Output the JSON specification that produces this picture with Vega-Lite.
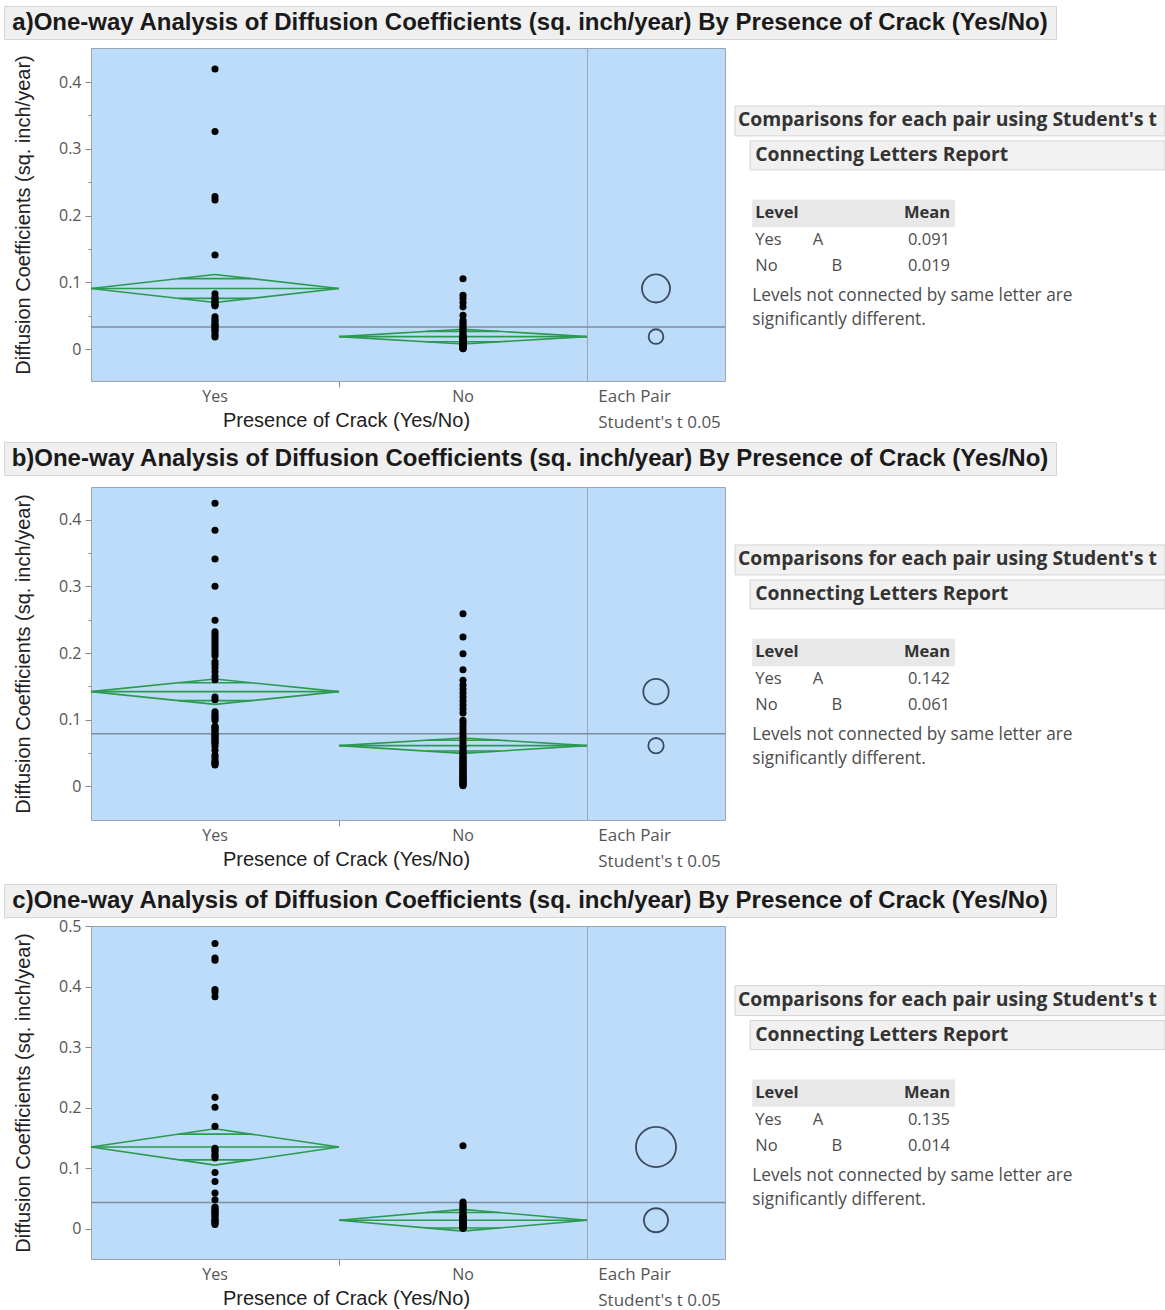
{
  "$schema": "https://vega.github.io/schema/vega-lite/v6.json",
  "padding": {"left": 3, "top": 5, "right": 0, "bottom": 0},
  "background": "#ffffff",
  "datasets": {
    "titles": [
      {"panel": "a", "title": "a)One-way Analysis of Diffusion Coefficients (sq. inch/year) By Presence of Crack (Yes/No)"},
      {"panel": "b", "title": "b)One-way Analysis of Diffusion Coefficients (sq. inch/year) By Presence of Crack (Yes/No)"},
      {"panel": "c", "title": "c)One-way Analysis of Diffusion Coefficients (sq. inch/year) By Presence of Crack (Yes/No)"}
    ],
    "report": [
      {"heading": "Comparisons for each pair using Student's t", "subheading": "Connecting Letters Report", "level_col": "Level", "mean_col": "Mean", "note1": "Levels not connected by same letter are", "note2": "significantly different."}
    ],
    "groups": [
      {"panel": "a", "crack": "Yes", "letter": "A", "mean": 0.091, "ci_lo": 0.070, "ci_hi": 0.112, "ov_lo": 0.0762, "ov_hi": 0.1058, "ci_half": 0.021},
      {"panel": "a", "crack": "No", "letter": "B", "mean": 0.019, "ci_lo": 0.008, "ci_hi": 0.030, "ov_lo": 0.0112, "ov_hi": 0.0268, "ci_half": 0.011},
      {"panel": "b", "crack": "Yes", "letter": "A", "mean": 0.142, "ci_lo": 0.123, "ci_hi": 0.161, "ov_lo": 0.1286, "ov_hi": 0.1554, "ci_half": 0.019},
      {"panel": "b", "crack": "No", "letter": "B", "mean": 0.061, "ci_lo": 0.0495, "ci_hi": 0.0725, "ov_lo": 0.0529, "ov_hi": 0.0691, "ci_half": 0.0115},
      {"panel": "c", "crack": "Yes", "letter": "A", "mean": 0.135, "ci_lo": 0.105, "ci_hi": 0.165, "ov_lo": 0.1138, "ov_hi": 0.1562, "ci_half": 0.030},
      {"panel": "c", "crack": "No", "letter": "B", "mean": 0.014, "ci_lo": -0.004, "ci_hi": 0.032, "ov_lo": 0.0013, "ov_hi": 0.0267, "ci_half": 0.018}
    ],
    "grand": [
      {"panel": "a", "grand_mean": 0.0335},
      {"panel": "b", "grand_mean": 0.079},
      {"panel": "c", "grand_mean": 0.0435}
    ],
    "points": [
      {"panel": "a", "crack": "Yes", "coef": 0.4195}, {"panel": "a", "crack": "Yes", "coef": 0.326}, {"panel": "a", "crack": "Yes", "coef": 0.2285}, {"panel": "a", "crack": "Yes", "coef": 0.2235}, {"panel": "a", "crack": "Yes", "coef": 0.141},
      {"panel": "a", "crack": "Yes", "coef": 0.083}, {"panel": "a", "crack": "Yes", "coef": 0.078}, {"panel": "a", "crack": "Yes", "coef": 0.075}, {"panel": "a", "crack": "Yes", "coef": 0.072}, {"panel": "a", "crack": "Yes", "coef": 0.070},
      {"panel": "a", "crack": "Yes", "coef": 0.068}, {"panel": "a", "crack": "Yes", "coef": 0.066}, {"panel": "a", "crack": "Yes", "coef": 0.065}, {"panel": "a", "crack": "Yes", "coef": 0.0485}, {"panel": "a", "crack": "Yes", "coef": 0.045},
      {"panel": "a", "crack": "Yes", "coef": 0.042}, {"panel": "a", "crack": "Yes", "coef": 0.038}, {"panel": "a", "crack": "Yes", "coef": 0.036}, {"panel": "a", "crack": "Yes", "coef": 0.035}, {"panel": "a", "crack": "Yes", "coef": 0.032},
      {"panel": "a", "crack": "Yes", "coef": 0.030}, {"panel": "a", "crack": "Yes", "coef": 0.028}, {"panel": "a", "crack": "Yes", "coef": 0.025}, {"panel": "a", "crack": "Yes", "coef": 0.021}, {"panel": "a", "crack": "Yes", "coef": 0.0185},
      {"panel": "a", "crack": "No", "coef": 0.1055}, {"panel": "a", "crack": "No", "coef": 0.081}, {"panel": "a", "crack": "No", "coef": 0.076}, {"panel": "a", "crack": "No", "coef": 0.070}, {"panel": "a", "crack": "No", "coef": 0.0635},
      {"panel": "a", "crack": "No", "coef": 0.051}, {"panel": "a", "crack": "No", "coef": 0.0435}, {"panel": "a", "crack": "No", "coef": 0.040}, {"panel": "a", "crack": "No", "coef": 0.037}, {"panel": "a", "crack": "No", "coef": 0.034},
      {"panel": "a", "crack": "No", "coef": 0.031}, {"panel": "a", "crack": "No", "coef": 0.028}, {"panel": "a", "crack": "No", "coef": 0.025}, {"panel": "a", "crack": "No", "coef": 0.022}, {"panel": "a", "crack": "No", "coef": 0.020},
      {"panel": "a", "crack": "No", "coef": 0.019}, {"panel": "a", "crack": "No", "coef": 0.018}, {"panel": "a", "crack": "No", "coef": 0.017}, {"panel": "a", "crack": "No", "coef": 0.016}, {"panel": "a", "crack": "No", "coef": 0.015},
      {"panel": "a", "crack": "No", "coef": 0.014}, {"panel": "a", "crack": "No", "coef": 0.013}, {"panel": "a", "crack": "No", "coef": 0.012}, {"panel": "a", "crack": "No", "coef": 0.011}, {"panel": "a", "crack": "No", "coef": 0.010},
      {"panel": "a", "crack": "No", "coef": 0.009}, {"panel": "a", "crack": "No", "coef": 0.008}, {"panel": "a", "crack": "No", "coef": 0.008}, {"panel": "a", "crack": "No", "coef": 0.007}, {"panel": "a", "crack": "No", "coef": 0.007},
      {"panel": "a", "crack": "No", "coef": 0.006}, {"panel": "a", "crack": "No", "coef": 0.006}, {"panel": "a", "crack": "No", "coef": 0.005}, {"panel": "a", "crack": "No", "coef": 0.005}, {"panel": "a", "crack": "No", "coef": 0.005},
      {"panel": "a", "crack": "No", "coef": 0.004}, {"panel": "a", "crack": "No", "coef": 0.004}, {"panel": "a", "crack": "No", "coef": 0.004}, {"panel": "a", "crack": "No", "coef": 0.003}, {"panel": "a", "crack": "No", "coef": 0.003},
      {"panel": "a", "crack": "No", "coef": 0.003}, {"panel": "a", "crack": "No", "coef": 0.002}, {"panel": "a", "crack": "No", "coef": 0.002}, {"panel": "a", "crack": "No", "coef": 0.002}, {"panel": "a", "crack": "No", "coef": 0.001},
      {"panel": "a", "crack": "No", "coef": 0.001}, {"panel": "a", "crack": "No", "coef": 0.001}, {"panel": "a", "crack": "No", "coef": 0.010}, {"panel": "a", "crack": "No", "coef": 0.009}, {"panel": "a", "crack": "No", "coef": 0.006},
      {"panel": "a", "crack": "No", "coef": 0.003},
      {"panel": "b", "crack": "Yes", "coef": 0.4245}, {"panel": "b", "crack": "Yes", "coef": 0.384}, {"panel": "b", "crack": "Yes", "coef": 0.341}, {"panel": "b", "crack": "Yes", "coef": 0.300}, {"panel": "b", "crack": "Yes", "coef": 0.249},
      {"panel": "b", "crack": "Yes", "coef": 0.232}, {"panel": "b", "crack": "Yes", "coef": 0.228}, {"panel": "b", "crack": "Yes", "coef": 0.224}, {"panel": "b", "crack": "Yes", "coef": 0.220}, {"panel": "b", "crack": "Yes", "coef": 0.216},
      {"panel": "b", "crack": "Yes", "coef": 0.212}, {"panel": "b", "crack": "Yes", "coef": 0.208}, {"panel": "b", "crack": "Yes", "coef": 0.204}, {"panel": "b", "crack": "Yes", "coef": 0.200}, {"panel": "b", "crack": "Yes", "coef": 0.196},
      {"panel": "b", "crack": "Yes", "coef": 0.187}, {"panel": "b", "crack": "Yes", "coef": 0.183}, {"panel": "b", "crack": "Yes", "coef": 0.178}, {"panel": "b", "crack": "Yes", "coef": 0.172}, {"panel": "b", "crack": "Yes", "coef": 0.165},
      {"panel": "b", "crack": "Yes", "coef": 0.160}, {"panel": "b", "crack": "Yes", "coef": 0.134}, {"panel": "b", "crack": "Yes", "coef": 0.130}, {"panel": "b", "crack": "Yes", "coef": 0.112}, {"panel": "b", "crack": "Yes", "coef": 0.108},
      {"panel": "b", "crack": "Yes", "coef": 0.105}, {"panel": "b", "crack": "Yes", "coef": 0.102}, {"panel": "b", "crack": "Yes", "coef": 0.099}, {"panel": "b", "crack": "Yes", "coef": 0.090}, {"panel": "b", "crack": "Yes", "coef": 0.089},
      {"panel": "b", "crack": "Yes", "coef": 0.087}, {"panel": "b", "crack": "Yes", "coef": 0.085}, {"panel": "b", "crack": "Yes", "coef": 0.083}, {"panel": "b", "crack": "Yes", "coef": 0.080}, {"panel": "b", "crack": "Yes", "coef": 0.078},
      {"panel": "b", "crack": "Yes", "coef": 0.076}, {"panel": "b", "crack": "Yes", "coef": 0.074}, {"panel": "b", "crack": "Yes", "coef": 0.072}, {"panel": "b", "crack": "Yes", "coef": 0.070}, {"panel": "b", "crack": "Yes", "coef": 0.068},
      {"panel": "b", "crack": "Yes", "coef": 0.066}, {"panel": "b", "crack": "Yes", "coef": 0.064}, {"panel": "b", "crack": "Yes", "coef": 0.060}, {"panel": "b", "crack": "Yes", "coef": 0.054}, {"panel": "b", "crack": "Yes", "coef": 0.047},
      {"panel": "b", "crack": "Yes", "coef": 0.044}, {"panel": "b", "crack": "Yes", "coef": 0.040}, {"panel": "b", "crack": "Yes", "coef": 0.037}, {"panel": "b", "crack": "Yes", "coef": 0.035}, {"panel": "b", "crack": "Yes", "coef": 0.034},
      {"panel": "b", "crack": "Yes", "coef": 0.032},
      {"panel": "b", "crack": "No", "coef": 0.259}, {"panel": "b", "crack": "No", "coef": 0.224}, {"panel": "b", "crack": "No", "coef": 0.199}, {"panel": "b", "crack": "No", "coef": 0.175}, {"panel": "b", "crack": "No", "coef": 0.159},
      {"panel": "b", "crack": "No", "coef": 0.152}, {"panel": "b", "crack": "No", "coef": 0.146}, {"panel": "b", "crack": "No", "coef": 0.140}, {"panel": "b", "crack": "No", "coef": 0.134}, {"panel": "b", "crack": "No", "coef": 0.128},
      {"panel": "b", "crack": "No", "coef": 0.122}, {"panel": "b", "crack": "No", "coef": 0.116}, {"panel": "b", "crack": "No", "coef": 0.110}, {"panel": "b", "crack": "No", "coef": 0.099}, {"panel": "b", "crack": "No", "coef": 0.095},
      {"panel": "b", "crack": "No", "coef": 0.090}, {"panel": "b", "crack": "No", "coef": 0.085}, {"panel": "b", "crack": "No", "coef": 0.080}, {"panel": "b", "crack": "No", "coef": 0.075}, {"panel": "b", "crack": "No", "coef": 0.070},
      {"panel": "b", "crack": "No", "coef": 0.065}, {"panel": "b", "crack": "No", "coef": 0.060}, {"panel": "b", "crack": "No", "coef": 0.058}, {"panel": "b", "crack": "No", "coef": 0.055}, {"panel": "b", "crack": "No", "coef": 0.052},
      {"panel": "b", "crack": "No", "coef": 0.050}, {"panel": "b", "crack": "No", "coef": 0.048}, {"panel": "b", "crack": "No", "coef": 0.045}, {"panel": "b", "crack": "No", "coef": 0.043}, {"panel": "b", "crack": "No", "coef": 0.042},
      {"panel": "b", "crack": "No", "coef": 0.040}, {"panel": "b", "crack": "No", "coef": 0.038}, {"panel": "b", "crack": "No", "coef": 0.036}, {"panel": "b", "crack": "No", "coef": 0.035}, {"panel": "b", "crack": "No", "coef": 0.033},
      {"panel": "b", "crack": "No", "coef": 0.031}, {"panel": "b", "crack": "No", "coef": 0.030}, {"panel": "b", "crack": "No", "coef": 0.028}, {"panel": "b", "crack": "No", "coef": 0.027}, {"panel": "b", "crack": "No", "coef": 0.025},
      {"panel": "b", "crack": "No", "coef": 0.024}, {"panel": "b", "crack": "No", "coef": 0.022}, {"panel": "b", "crack": "No", "coef": 0.020}, {"panel": "b", "crack": "No", "coef": 0.019}, {"panel": "b", "crack": "No", "coef": 0.018},
      {"panel": "b", "crack": "No", "coef": 0.016}, {"panel": "b", "crack": "No", "coef": 0.015}, {"panel": "b", "crack": "No", "coef": 0.013}, {"panel": "b", "crack": "No", "coef": 0.012}, {"panel": "b", "crack": "No", "coef": 0.010},
      {"panel": "b", "crack": "No", "coef": 0.009}, {"panel": "b", "crack": "No", "coef": 0.008}, {"panel": "b", "crack": "No", "coef": 0.006}, {"panel": "b", "crack": "No", "coef": 0.005}, {"panel": "b", "crack": "No", "coef": 0.004},
      {"panel": "b", "crack": "No", "coef": 0.003}, {"panel": "b", "crack": "No", "coef": 0.002}, {"panel": "b", "crack": "No", "coef": 0.001},
      {"panel": "c", "crack": "Yes", "coef": 0.471}, {"panel": "c", "crack": "Yes", "coef": 0.447}, {"panel": "c", "crack": "Yes", "coef": 0.4435}, {"panel": "c", "crack": "Yes", "coef": 0.395}, {"panel": "c", "crack": "Yes", "coef": 0.391},
      {"panel": "c", "crack": "Yes", "coef": 0.383}, {"panel": "c", "crack": "Yes", "coef": 0.217}, {"panel": "c", "crack": "Yes", "coef": 0.2005}, {"panel": "c", "crack": "Yes", "coef": 0.169}, {"panel": "c", "crack": "Yes", "coef": 0.133},
      {"panel": "c", "crack": "Yes", "coef": 0.130}, {"panel": "c", "crack": "Yes", "coef": 0.128}, {"panel": "c", "crack": "Yes", "coef": 0.123}, {"panel": "c", "crack": "Yes", "coef": 0.120}, {"panel": "c", "crack": "Yes", "coef": 0.117},
      {"panel": "c", "crack": "Yes", "coef": 0.093}, {"panel": "c", "crack": "Yes", "coef": 0.078}, {"panel": "c", "crack": "Yes", "coef": 0.059}, {"panel": "c", "crack": "Yes", "coef": 0.048}, {"panel": "c", "crack": "Yes", "coef": 0.036},
      {"panel": "c", "crack": "Yes", "coef": 0.034}, {"panel": "c", "crack": "Yes", "coef": 0.031}, {"panel": "c", "crack": "Yes", "coef": 0.029}, {"panel": "c", "crack": "Yes", "coef": 0.027}, {"panel": "c", "crack": "Yes", "coef": 0.025},
      {"panel": "c", "crack": "Yes", "coef": 0.022}, {"panel": "c", "crack": "Yes", "coef": 0.020}, {"panel": "c", "crack": "Yes", "coef": 0.016}, {"panel": "c", "crack": "Yes", "coef": 0.014}, {"panel": "c", "crack": "Yes", "coef": 0.013},
      {"panel": "c", "crack": "Yes", "coef": 0.011}, {"panel": "c", "crack": "Yes", "coef": 0.009}, {"panel": "c", "crack": "Yes", "coef": 0.007},
      {"panel": "c", "crack": "No", "coef": 0.137}, {"panel": "c", "crack": "No", "coef": 0.044}, {"panel": "c", "crack": "No", "coef": 0.041}, {"panel": "c", "crack": "No", "coef": 0.038}, {"panel": "c", "crack": "No", "coef": 0.035},
      {"panel": "c", "crack": "No", "coef": 0.032}, {"panel": "c", "crack": "No", "coef": 0.029}, {"panel": "c", "crack": "No", "coef": 0.026}, {"panel": "c", "crack": "No", "coef": 0.023}, {"panel": "c", "crack": "No", "coef": 0.021},
      {"panel": "c", "crack": "No", "coef": 0.020}, {"panel": "c", "crack": "No", "coef": 0.019}, {"panel": "c", "crack": "No", "coef": 0.018}, {"panel": "c", "crack": "No", "coef": 0.017}, {"panel": "c", "crack": "No", "coef": 0.016},
      {"panel": "c", "crack": "No", "coef": 0.015}, {"panel": "c", "crack": "No", "coef": 0.014}, {"panel": "c", "crack": "No", "coef": 0.013}, {"panel": "c", "crack": "No", "coef": 0.012}, {"panel": "c", "crack": "No", "coef": 0.011},
      {"panel": "c", "crack": "No", "coef": 0.010}, {"panel": "c", "crack": "No", "coef": 0.009}, {"panel": "c", "crack": "No", "coef": 0.008}, {"panel": "c", "crack": "No", "coef": 0.007}, {"panel": "c", "crack": "No", "coef": 0.006},
      {"panel": "c", "crack": "No", "coef": 0.006}, {"panel": "c", "crack": "No", "coef": 0.005}, {"panel": "c", "crack": "No", "coef": 0.005}, {"panel": "c", "crack": "No", "coef": 0.004}, {"panel": "c", "crack": "No", "coef": 0.004},
      {"panel": "c", "crack": "No", "coef": 0.003}, {"panel": "c", "crack": "No", "coef": 0.003}, {"panel": "c", "crack": "No", "coef": 0.003}, {"panel": "c", "crack": "No", "coef": 0.002}, {"panel": "c", "crack": "No", "coef": 0.002},
      {"panel": "c", "crack": "No", "coef": 0.002}, {"panel": "c", "crack": "No", "coef": 0.001}, {"panel": "c", "crack": "No", "coef": 0.001}, {"panel": "c", "crack": "No", "coef": 0.001}, {"panel": "c", "crack": "No", "coef": 0.008},
      {"panel": "c", "crack": "No", "coef": 0.005}, {"panel": "c", "crack": "No", "coef": 0.004}, {"panel": "c", "crack": "No", "coef": 0.003}, {"panel": "c", "crack": "No", "coef": 0.002}, {"panel": "c", "crack": "No", "coef": 0.001}
    ]
  },
  "config": {
    "view": {"stroke": null},
    "font": "Open Sans"
  },
  "align": "none",
  "spacing": 9,
  "vconcat": [
    {
      "align": "none",
      "spacing": 7,
      "vconcat": [
        {
          "width": 1052, "height": 33,
          "view": {"fill": "#f0f0f0", "stroke": "#d5d5d5"},
          "data": {"name": "titles"},
          "transform": [{"filter": "datum.panel == 'a'"}],
          "mark": {"type": "text", "font": "Liberation Sans", "fontSize": 24, "fontWeight": "bold", "color": "#1a1a1a", "align": "center", "baseline": "middle"},
          "encoding": {"text": {"field": "title"}}
        },
        {
          "spacing": 0,
          "bounds": "flush",
          "hconcat": [
            {"width": 87, "height": 10, "data": {"name": "report"}, "mark": {"type": "point", "opacity": 0}},
            {
              "width": 496, "height": 333,
              "view": {"fill": "#bcdcfa", "stroke": "#9aa5b1"},
              "layer": [
                {
                  "data": {"name": "grand"},
                  "transform": [{"filter": "datum.panel == 'a'"}],
                  "mark": {"type": "rule", "color": "#7d8c9f", "strokeWidth": 1.5},
                  "encoding": {"y": {"field": "grand_mean", "type": "quantitative", "scale": {"domain": [-0.0475, 0.451]}, "title": "Diffusion Coefficients (sq. inch/year)"}}
                },
                {
                  "data": {"name": "groups"},
                  "transform": [{"filter": "datum.panel == 'a'"}],
                  "layer": [
                    {"mark": {"type": "rule", "color": "#2b9a4f", "strokeWidth": 1.6}, "encoding": {"x": {"field": "crack", "type": "nominal", "bandPosition": 0, "scale": {"type": "band", "domain": ["Yes", "No"], "paddingInner": 0, "paddingOuter": 0}, "title": "Presence of Crack (Yes/No)"}, "x2": {"field": "crack", "bandPosition": 0.5}, "y": {"field": "mean", "type": "quantitative", "scale": {"domain": [-0.0475, 0.451]}, "title": "Diffusion Coefficients (sq. inch/year)"}, "y2": {"field": "ci_hi"}}},
                    {"mark": {"type": "rule", "color": "#2b9a4f", "strokeWidth": 1.6}, "encoding": {"x": {"field": "crack", "type": "nominal", "bandPosition": 0.5, "scale": {"type": "band", "domain": ["Yes", "No"], "paddingInner": 0, "paddingOuter": 0}, "title": "Presence of Crack (Yes/No)"}, "x2": {"field": "crack", "bandPosition": 1}, "y": {"field": "ci_hi", "type": "quantitative", "scale": {"domain": [-0.0475, 0.451]}, "title": "Diffusion Coefficients (sq. inch/year)"}, "y2": {"field": "mean"}}},
                    {"mark": {"type": "rule", "color": "#2b9a4f", "strokeWidth": 1.6}, "encoding": {"x": {"field": "crack", "type": "nominal", "bandPosition": 1, "scale": {"type": "band", "domain": ["Yes", "No"], "paddingInner": 0, "paddingOuter": 0}, "title": "Presence of Crack (Yes/No)"}, "x2": {"field": "crack", "bandPosition": 0.5}, "y": {"field": "mean", "type": "quantitative", "scale": {"domain": [-0.0475, 0.451]}, "title": "Diffusion Coefficients (sq. inch/year)"}, "y2": {"field": "ci_lo"}}},
                    {"mark": {"type": "rule", "color": "#2b9a4f", "strokeWidth": 1.6}, "encoding": {"x": {"field": "crack", "type": "nominal", "bandPosition": 0.5, "scale": {"type": "band", "domain": ["Yes", "No"], "paddingInner": 0, "paddingOuter": 0}, "title": "Presence of Crack (Yes/No)"}, "x2": {"field": "crack", "bandPosition": 0}, "y": {"field": "ci_lo", "type": "quantitative", "scale": {"domain": [-0.0475, 0.451]}, "title": "Diffusion Coefficients (sq. inch/year)"}, "y2": {"field": "mean"}}},
                    {"mark": {"type": "rule", "color": "#2b9a4f", "strokeWidth": 1.6}, "encoding": {"x": {"field": "crack", "type": "nominal", "bandPosition": 0, "scale": {"type": "band", "domain": ["Yes", "No"], "paddingInner": 0, "paddingOuter": 0}, "title": "Presence of Crack (Yes/No)"}, "x2": {"field": "crack", "bandPosition": 1}, "y": {"field": "mean", "type": "quantitative", "scale": {"domain": [-0.0475, 0.451]}, "title": "Diffusion Coefficients (sq. inch/year)"}}},
                    {"mark": {"type": "rule", "color": "#2b9a4f", "strokeWidth": 1.6}, "encoding": {"x": {"field": "crack", "type": "nominal", "bandPosition": 0.3535, "scale": {"type": "band", "domain": ["Yes", "No"], "paddingInner": 0, "paddingOuter": 0}, "title": "Presence of Crack (Yes/No)"}, "x2": {"field": "crack", "bandPosition": 0.6465}, "y": {"field": "ov_hi", "type": "quantitative", "scale": {"domain": [-0.0475, 0.451]}, "title": "Diffusion Coefficients (sq. inch/year)"}}},
                    {"mark": {"type": "rule", "color": "#2b9a4f", "strokeWidth": 1.6}, "encoding": {"x": {"field": "crack", "type": "nominal", "bandPosition": 0.3535, "scale": {"type": "band", "domain": ["Yes", "No"], "paddingInner": 0, "paddingOuter": 0}, "title": "Presence of Crack (Yes/No)"}, "x2": {"field": "crack", "bandPosition": 0.6465}, "y": {"field": "ov_lo", "type": "quantitative", "scale": {"domain": [-0.0475, 0.451]}, "title": "Diffusion Coefficients (sq. inch/year)"}}}
                  ]
                },
                {
                  "data": {"name": "points"},
                  "transform": [{"filter": "datum.panel == 'a'"}],
                  "mark": {"type": "circle", "size": 50, "color": "#000000", "opacity": 1},
                  "encoding": {
                    "x": {"field": "crack", "type": "nominal", "scale": {"type": "band", "domain": ["Yes", "No"], "paddingInner": 0, "paddingOuter": 0}, "title": "Presence of Crack (Yes/No)",
                      "axis": {"bandPosition": 0, "labelAlign": "center", "tickOpacity": {"condition": {"test": "datum.value == 'Yes'", "value": 0}, "value": 1}, "tickSize": 6, "tickColor": "#8a8a8a", "domain": false, "grid": false, "labelAngle": 0, "labelPadding": 9, "labelFont": "Open Sans", "labelFontSize": 16, "labelColor": "#555555", "titleFont": "Liberation Sans", "titleFontSize": 20, "titleFontWeight": "normal", "titleColor": "#1e1e1e", "titlePadding": 6, "titleX": 255}},
                    "y": {"field": "coef", "type": "quantitative", "scale": {"domain": [-0.0475, 0.451]}, "title": "Diffusion Coefficients (sq. inch/year)",
                      "axis": {"values": [0, 0.05, 0.1, 0.15, 0.2, 0.25, 0.3, 0.35, 0.4], "labelExpr": "abs(datum.value * 10 - round(datum.value * 10)) < 0.001 ? format(datum.value, '.1~f') : ''", "tickSize": {"condition": {"test": "abs(datum.value * 10 - round(datum.value * 10)) < 0.001", "value": 6}, "value": 3}, "tickColor": "#8a8a8a", "domain": false, "grid": false, "labelFont": "Open Sans", "labelFontSize": 16, "labelColor": "#555555", "labelPadding": 4, "titleFont": "Liberation Sans", "titleFontSize": 20, "titleFontWeight": "normal", "titleColor": "#222222", "titlePadding": 25}}
                  }
                }
              ]
            },
            {
              "width": 138, "height": 333,
              "view": {"fill": "#bcdcfa", "stroke": "#9aa5b1"},
              "title": {"text": ["Each Pair", "Student's t 0.05"], "orient": "bottom", "anchor": "start", "dx": 12, "offset": 8, "font": "Open Sans", "fontSize": 17, "fontWeight": "normal", "color": "#555555", "lineHeight": 26},
              "layer": [
                {
                  "data": {"name": "grand"},
                  "transform": [{"filter": "datum.panel == 'a'"}],
                  "mark": {"type": "rule", "color": "#7d8c9f", "strokeWidth": 1.5},
                  "encoding": {"y": {"field": "grand_mean", "type": "quantitative", "scale": {"domain": [-0.0475, 0.451]}, "axis": null}}
                },
                {
                  "data": {"name": "groups"},
                  "transform": [{"filter": "datum.panel == 'a'"}],
                  "mark": {"type": "point", "shape": "circle", "filled": false, "stroke": "#3d4b5f", "strokeWidth": 1.8, "opacity": 1},
                  "encoding": {
                    "y": {"field": "mean", "type": "quantitative", "scale": {"domain": [-0.0475, 0.451]}, "axis": null},
                    "size": {"field": "ci_half", "type": "quantitative", "scale": {"type": "pow", "exponent": 2, "domain": [0, 0.05], "range": [0, 4462]}, "legend": null}
                  }
                }
              ]
            },
            {"width": 10, "height": 10, "data": {"name": "report"}, "mark": {"type": "point", "opacity": 0}},
            {
              "width": 430, "height": 333,
              "layer": [
                {"data": {"name": "report"}, "mark": {"type": "rect", "fill": "#f1f1f1", "stroke": "#d4d4d4", "strokeWidth": 1}, "encoding": {"x": {"datum": 0, "type": "quantitative", "scale": {"domain": [0, 100]}, "axis": null}, "x2": {"datum": 100}, "y": {"datum": 17.4, "type": "quantitative", "scale": {"domain": [100, 0]}, "axis": null}, "y2": {"datum": 26.4}}},
                {"data": {"name": "report"}, "mark": {"type": "rect", "fill": "#f1f1f1", "stroke": "#d4d4d4", "strokeWidth": 1}, "encoding": {"x": {"datum": 3.5, "type": "quantitative", "scale": {"domain": [0, 100]}, "axis": null}, "x2": {"datum": 100}, "y": {"datum": 27.9, "type": "quantitative", "scale": {"domain": [100, 0]}, "axis": null}, "y2": {"datum": 36.6}}},
                {"data": {"name": "report"}, "mark": {"type": "rect", "fill": "#e8e8e8"}, "encoding": {"x": {"datum": 4.0, "type": "quantitative", "scale": {"domain": [0, 100]}, "axis": null}, "x2": {"datum": 51.2}, "y": {"datum": 45.6, "type": "quantitative", "scale": {"domain": [100, 0]}, "axis": null}, "y2": {"datum": 53.8}}},
                {"data": {"name": "report"}, "mark": {"type": "text", "align": "left", "baseline": "middle", "font": "Open Sans", "fontSize": 19.3, "fontWeight": "bold", "color": "#333333"}, "encoding": {"x": {"datum": 0.7, "type": "quantitative", "scale": {"domain": [0, 100]}, "axis": null}, "y": {"datum": 21.6, "type": "quantitative", "scale": {"domain": [100, 0]}, "axis": null}, "text": {"field": "heading"}}},
                {"data": {"name": "report"}, "mark": {"type": "text", "align": "left", "baseline": "middle", "font": "Open Sans", "fontSize": 19.3, "fontWeight": "bold", "color": "#333333"}, "encoding": {"x": {"datum": 4.7, "type": "quantitative", "scale": {"domain": [0, 100]}, "axis": null}, "y": {"datum": 32.1, "type": "quantitative", "scale": {"domain": [100, 0]}, "axis": null}, "text": {"field": "subheading"}}},
                {"data": {"name": "report"}, "mark": {"type": "text", "align": "left", "baseline": "middle", "font": "Open Sans", "fontSize": 16.5, "fontWeight": "bold", "color": "#333333"}, "encoding": {"x": {"datum": 4.7, "type": "quantitative", "scale": {"domain": [0, 100]}, "axis": null}, "y": {"datum": 49.5, "type": "quantitative", "scale": {"domain": [100, 0]}, "axis": null}, "text": {"field": "level_col"}}},
                {"data": {"name": "report"}, "mark": {"type": "text", "align": "right", "baseline": "middle", "font": "Open Sans", "fontSize": 16.5, "fontWeight": "bold", "color": "#333333"}, "encoding": {"x": {"datum": 50.0, "type": "quantitative", "scale": {"domain": [0, 100]}, "axis": null}, "y": {"datum": 49.5, "type": "quantitative", "scale": {"domain": [100, 0]}, "axis": null}, "text": {"field": "mean_col"}}},
                {"data": {"name": "report"}, "mark": {"type": "text", "align": "left", "baseline": "middle", "font": "Open Sans", "fontSize": 17.3, "color": "#4d4d4d"}, "encoding": {"x": {"datum": 4.0, "type": "quantitative", "scale": {"domain": [0, 100]}, "axis": null}, "y": {"datum": 74.5, "type": "quantitative", "scale": {"domain": [100, 0]}, "axis": null}, "text": {"field": "note1"}}},
                {"data": {"name": "report"}, "mark": {"type": "text", "align": "left", "baseline": "middle", "font": "Open Sans", "fontSize": 17.3, "color": "#4d4d4d"}, "encoding": {"x": {"datum": 4.0, "type": "quantitative", "scale": {"domain": [0, 100]}, "axis": null}, "y": {"datum": 81.7, "type": "quantitative", "scale": {"domain": [100, 0]}, "axis": null}, "text": {"field": "note2"}}},
                {
                  "data": {"name": "groups"},
                  "transform": [{"filter": "datum.panel == 'a' && datum.crack == 'Yes'"}],
                  "encoding": {"y": {"datum": 57.7, "type": "quantitative", "scale": {"domain": [100, 0]}, "axis": null}},
                  "layer": [
                    {"mark": {"type": "text", "align": "left", "baseline": "middle", "font": "Open Sans", "fontSize": 16.5, "color": "#4d4d4d"}, "encoding": {"x": {"datum": 4.7, "type": "quantitative", "scale": {"domain": [0, 100]}, "axis": null}, "text": {"field": "crack"}}},
                    {"mark": {"type": "text", "align": "center", "baseline": "middle", "font": "Open Sans", "fontSize": 16.5, "color": "#4d4d4d"}, "encoding": {"x": {"datum": 19.3, "type": "quantitative", "scale": {"domain": [0, 100]}, "axis": null}, "text": {"field": "letter"}}},
                    {"mark": {"type": "text", "align": "right", "baseline": "middle", "font": "Open Sans", "fontSize": 16.5, "color": "#4d4d4d"}, "encoding": {"x": {"datum": 50.0, "type": "quantitative", "scale": {"domain": [0, 100]}, "axis": null}, "text": {"field": "mean", "format": ".3f"}}}
                  ]
                },
                {
                  "data": {"name": "groups"},
                  "transform": [{"filter": "datum.panel == 'a' && datum.crack == 'No'"}],
                  "encoding": {"y": {"datum": 65.5, "type": "quantitative", "scale": {"domain": [100, 0]}, "axis": null}},
                  "layer": [
                    {"mark": {"type": "text", "align": "left", "baseline": "middle", "font": "Open Sans", "fontSize": 16.5, "color": "#4d4d4d"}, "encoding": {"x": {"datum": 4.7, "type": "quantitative", "scale": {"domain": [0, 100]}, "axis": null}, "text": {"field": "crack"}}},
                    {"mark": {"type": "text", "align": "center", "baseline": "middle", "font": "Open Sans", "fontSize": 16.5, "color": "#4d4d4d"}, "encoding": {"x": {"datum": 23.7, "type": "quantitative", "scale": {"domain": [0, 100]}, "axis": null}, "text": {"field": "letter"}}},
                    {"mark": {"type": "text", "align": "right", "baseline": "middle", "font": "Open Sans", "fontSize": 16.5, "color": "#4d4d4d"}, "encoding": {"x": {"datum": 50.0, "type": "quantitative", "scale": {"domain": [0, 100]}, "axis": null}, "text": {"field": "mean", "format": ".3f"}}}
                  ]
                }
              ]
            }
          ]
        }
      ]
    },
    {
      "align": "none",
      "spacing": 12,
      "vconcat": [
        {
          "align": "none",
          "spacing": 10,
          "vconcat": [
            {
              "width": 1052, "height": 33,
              "view": {"fill": "#f0f0f0", "stroke": "#d5d5d5"},
              "data": {"name": "titles"},
              "transform": [{"filter": "datum.panel == 'b'"}],
              "mark": {"type": "text", "font": "Liberation Sans", "fontSize": 24, "fontWeight": "bold", "color": "#1a1a1a", "align": "center", "baseline": "middle"},
              "encoding": {"text": {"field": "title"}}
            },
            {
              "spacing": 0,
              "bounds": "flush",
              "hconcat": [
                {"width": 87, "height": 10, "data": {"name": "report"}, "mark": {"type": "point", "opacity": 0}},
                {
                  "width": 496, "height": 333,
                  "view": {"fill": "#bcdcfa", "stroke": "#9aa5b1"},
                  "layer": [
                    {
                      "data": {"name": "grand"},
                      "transform": [{"filter": "datum.panel == 'b'"}],
                      "mark": {"type": "rule", "color": "#7d8c9f", "strokeWidth": 1.5},
                      "encoding": {"y": {"field": "grand_mean", "type": "quantitative", "scale": {"domain": [-0.0505, 0.449]}, "title": "Diffusion Coefficients (sq. inch/year)"}}
                    },
                    {
                      "data": {"name": "groups"},
                      "transform": [{"filter": "datum.panel == 'b'"}],
                      "layer": [
                        {"mark": {"type": "rule", "color": "#2b9a4f", "strokeWidth": 1.6}, "encoding": {"x": {"field": "crack", "type": "nominal", "bandPosition": 0, "scale": {"type": "band", "domain": ["Yes", "No"], "paddingInner": 0, "paddingOuter": 0}, "title": "Presence of Crack (Yes/No)"}, "x2": {"field": "crack", "bandPosition": 0.5}, "y": {"field": "mean", "type": "quantitative", "scale": {"domain": [-0.0505, 0.449]}, "title": "Diffusion Coefficients (sq. inch/year)"}, "y2": {"field": "ci_hi"}}},
                        {"mark": {"type": "rule", "color": "#2b9a4f", "strokeWidth": 1.6}, "encoding": {"x": {"field": "crack", "type": "nominal", "bandPosition": 0.5, "scale": {"type": "band", "domain": ["Yes", "No"], "paddingInner": 0, "paddingOuter": 0}, "title": "Presence of Crack (Yes/No)"}, "x2": {"field": "crack", "bandPosition": 1}, "y": {"field": "ci_hi", "type": "quantitative", "scale": {"domain": [-0.0505, 0.449]}, "title": "Diffusion Coefficients (sq. inch/year)"}, "y2": {"field": "mean"}}},
                        {"mark": {"type": "rule", "color": "#2b9a4f", "strokeWidth": 1.6}, "encoding": {"x": {"field": "crack", "type": "nominal", "bandPosition": 1, "scale": {"type": "band", "domain": ["Yes", "No"], "paddingInner": 0, "paddingOuter": 0}, "title": "Presence of Crack (Yes/No)"}, "x2": {"field": "crack", "bandPosition": 0.5}, "y": {"field": "mean", "type": "quantitative", "scale": {"domain": [-0.0505, 0.449]}, "title": "Diffusion Coefficients (sq. inch/year)"}, "y2": {"field": "ci_lo"}}},
                        {"mark": {"type": "rule", "color": "#2b9a4f", "strokeWidth": 1.6}, "encoding": {"x": {"field": "crack", "type": "nominal", "bandPosition": 0.5, "scale": {"type": "band", "domain": ["Yes", "No"], "paddingInner": 0, "paddingOuter": 0}, "title": "Presence of Crack (Yes/No)"}, "x2": {"field": "crack", "bandPosition": 0}, "y": {"field": "ci_lo", "type": "quantitative", "scale": {"domain": [-0.0505, 0.449]}, "title": "Diffusion Coefficients (sq. inch/year)"}, "y2": {"field": "mean"}}},
                        {"mark": {"type": "rule", "color": "#2b9a4f", "strokeWidth": 1.6}, "encoding": {"x": {"field": "crack", "type": "nominal", "bandPosition": 0, "scale": {"type": "band", "domain": ["Yes", "No"], "paddingInner": 0, "paddingOuter": 0}, "title": "Presence of Crack (Yes/No)"}, "x2": {"field": "crack", "bandPosition": 1}, "y": {"field": "mean", "type": "quantitative", "scale": {"domain": [-0.0505, 0.449]}, "title": "Diffusion Coefficients (sq. inch/year)"}}},
                        {"mark": {"type": "rule", "color": "#2b9a4f", "strokeWidth": 1.6}, "encoding": {"x": {"field": "crack", "type": "nominal", "bandPosition": 0.3535, "scale": {"type": "band", "domain": ["Yes", "No"], "paddingInner": 0, "paddingOuter": 0}, "title": "Presence of Crack (Yes/No)"}, "x2": {"field": "crack", "bandPosition": 0.6465}, "y": {"field": "ov_hi", "type": "quantitative", "scale": {"domain": [-0.0505, 0.449]}, "title": "Diffusion Coefficients (sq. inch/year)"}}},
                        {"mark": {"type": "rule", "color": "#2b9a4f", "strokeWidth": 1.6}, "encoding": {"x": {"field": "crack", "type": "nominal", "bandPosition": 0.3535, "scale": {"type": "band", "domain": ["Yes", "No"], "paddingInner": 0, "paddingOuter": 0}, "title": "Presence of Crack (Yes/No)"}, "x2": {"field": "crack", "bandPosition": 0.6465}, "y": {"field": "ov_lo", "type": "quantitative", "scale": {"domain": [-0.0505, 0.449]}, "title": "Diffusion Coefficients (sq. inch/year)"}}}
                      ]
                    },
                    {
                      "data": {"name": "points"},
                      "transform": [{"filter": "datum.panel == 'b'"}],
                      "mark": {"type": "circle", "size": 50, "color": "#000000", "opacity": 1},
                      "encoding": {
                        "x": {"field": "crack", "type": "nominal", "scale": {"type": "band", "domain": ["Yes", "No"], "paddingInner": 0, "paddingOuter": 0}, "title": "Presence of Crack (Yes/No)",
                          "axis": {"bandPosition": 0, "labelAlign": "center", "tickOpacity": {"condition": {"test": "datum.value == 'Yes'", "value": 0}, "value": 1}, "tickSize": 6, "tickColor": "#8a8a8a", "domain": false, "grid": false, "labelAngle": 0, "labelPadding": 9, "labelFont": "Open Sans", "labelFontSize": 16, "labelColor": "#555555", "titleFont": "Liberation Sans", "titleFontSize": 20, "titleFontWeight": "normal", "titleColor": "#1e1e1e", "titlePadding": 6, "titleX": 255}},
                        "y": {"field": "coef", "type": "quantitative", "scale": {"domain": [-0.0505, 0.449]}, "title": "Diffusion Coefficients (sq. inch/year)",
                          "axis": {"values": [0, 0.05, 0.1, 0.15, 0.2, 0.25, 0.3, 0.35, 0.4], "labelExpr": "abs(datum.value * 10 - round(datum.value * 10)) < 0.001 ? format(datum.value, '.1~f') : ''", "tickSize": {"condition": {"test": "abs(datum.value * 10 - round(datum.value * 10)) < 0.001", "value": 6}, "value": 3}, "tickColor": "#8a8a8a", "domain": false, "grid": false, "labelFont": "Open Sans", "labelFontSize": 16, "labelColor": "#555555", "labelPadding": 4, "titleFont": "Liberation Sans", "titleFontSize": 20, "titleFontWeight": "normal", "titleColor": "#222222", "titlePadding": 25}}
                      }
                    }
                  ]
                },
                {
                  "width": 138, "height": 333,
                  "view": {"fill": "#bcdcfa", "stroke": "#9aa5b1"},
                  "title": {"text": ["Each Pair", "Student's t 0.05"], "orient": "bottom", "anchor": "start", "dx": 12, "offset": 8, "font": "Open Sans", "fontSize": 17, "fontWeight": "normal", "color": "#555555", "lineHeight": 26},
                  "layer": [
                    {
                      "data": {"name": "grand"},
                      "transform": [{"filter": "datum.panel == 'b'"}],
                      "mark": {"type": "rule", "color": "#7d8c9f", "strokeWidth": 1.5},
                      "encoding": {"y": {"field": "grand_mean", "type": "quantitative", "scale": {"domain": [-0.0505, 0.449]}, "axis": null}}
                    },
                    {
                      "data": {"name": "groups"},
                      "transform": [{"filter": "datum.panel == 'b'"}],
                      "mark": {"type": "point", "shape": "circle", "filled": false, "stroke": "#3d4b5f", "strokeWidth": 1.8, "opacity": 1},
                      "encoding": {
                        "y": {"field": "mean", "type": "quantitative", "scale": {"domain": [-0.0505, 0.449]}, "axis": null},
                        "size": {"field": "ci_half", "type": "quantitative", "scale": {"type": "pow", "exponent": 2, "domain": [0, 0.05], "range": [0, 4444]}, "legend": null}
                      }
                    }
                  ]
                },
                {"width": 10, "height": 10, "data": {"name": "report"}, "mark": {"type": "point", "opacity": 0}},
                {
                  "width": 430, "height": 333,
                  "layer": [
                    {"data": {"name": "report"}, "mark": {"type": "rect", "fill": "#f1f1f1", "stroke": "#d4d4d4", "strokeWidth": 1}, "encoding": {"x": {"datum": 0, "type": "quantitative", "scale": {"domain": [0, 100]}, "axis": null}, "x2": {"datum": 100}, "y": {"datum": 17.4, "type": "quantitative", "scale": {"domain": [100, 0]}, "axis": null}, "y2": {"datum": 26.4}}},
                    {"data": {"name": "report"}, "mark": {"type": "rect", "fill": "#f1f1f1", "stroke": "#d4d4d4", "strokeWidth": 1}, "encoding": {"x": {"datum": 3.5, "type": "quantitative", "scale": {"domain": [0, 100]}, "axis": null}, "x2": {"datum": 100}, "y": {"datum": 27.9, "type": "quantitative", "scale": {"domain": [100, 0]}, "axis": null}, "y2": {"datum": 36.6}}},
                    {"data": {"name": "report"}, "mark": {"type": "rect", "fill": "#e8e8e8"}, "encoding": {"x": {"datum": 4.0, "type": "quantitative", "scale": {"domain": [0, 100]}, "axis": null}, "x2": {"datum": 51.2}, "y": {"datum": 45.6, "type": "quantitative", "scale": {"domain": [100, 0]}, "axis": null}, "y2": {"datum": 53.8}}},
                    {"data": {"name": "report"}, "mark": {"type": "text", "align": "left", "baseline": "middle", "font": "Open Sans", "fontSize": 19.3, "fontWeight": "bold", "color": "#333333"}, "encoding": {"x": {"datum": 0.7, "type": "quantitative", "scale": {"domain": [0, 100]}, "axis": null}, "y": {"datum": 21.6, "type": "quantitative", "scale": {"domain": [100, 0]}, "axis": null}, "text": {"field": "heading"}}},
                    {"data": {"name": "report"}, "mark": {"type": "text", "align": "left", "baseline": "middle", "font": "Open Sans", "fontSize": 19.3, "fontWeight": "bold", "color": "#333333"}, "encoding": {"x": {"datum": 4.7, "type": "quantitative", "scale": {"domain": [0, 100]}, "axis": null}, "y": {"datum": 32.1, "type": "quantitative", "scale": {"domain": [100, 0]}, "axis": null}, "text": {"field": "subheading"}}},
                    {"data": {"name": "report"}, "mark": {"type": "text", "align": "left", "baseline": "middle", "font": "Open Sans", "fontSize": 16.5, "fontWeight": "bold", "color": "#333333"}, "encoding": {"x": {"datum": 4.7, "type": "quantitative", "scale": {"domain": [0, 100]}, "axis": null}, "y": {"datum": 49.5, "type": "quantitative", "scale": {"domain": [100, 0]}, "axis": null}, "text": {"field": "level_col"}}},
                    {"data": {"name": "report"}, "mark": {"type": "text", "align": "right", "baseline": "middle", "font": "Open Sans", "fontSize": 16.5, "fontWeight": "bold", "color": "#333333"}, "encoding": {"x": {"datum": 50.0, "type": "quantitative", "scale": {"domain": [0, 100]}, "axis": null}, "y": {"datum": 49.5, "type": "quantitative", "scale": {"domain": [100, 0]}, "axis": null}, "text": {"field": "mean_col"}}},
                    {"data": {"name": "report"}, "mark": {"type": "text", "align": "left", "baseline": "middle", "font": "Open Sans", "fontSize": 17.3, "color": "#4d4d4d"}, "encoding": {"x": {"datum": 4.0, "type": "quantitative", "scale": {"domain": [0, 100]}, "axis": null}, "y": {"datum": 74.5, "type": "quantitative", "scale": {"domain": [100, 0]}, "axis": null}, "text": {"field": "note1"}}},
                    {"data": {"name": "report"}, "mark": {"type": "text", "align": "left", "baseline": "middle", "font": "Open Sans", "fontSize": 17.3, "color": "#4d4d4d"}, "encoding": {"x": {"datum": 4.0, "type": "quantitative", "scale": {"domain": [0, 100]}, "axis": null}, "y": {"datum": 81.7, "type": "quantitative", "scale": {"domain": [100, 0]}, "axis": null}, "text": {"field": "note2"}}},
                    {
                      "data": {"name": "groups"},
                      "transform": [{"filter": "datum.panel == 'b' && datum.crack == 'Yes'"}],
                      "encoding": {"y": {"datum": 57.7, "type": "quantitative", "scale": {"domain": [100, 0]}, "axis": null}},
                      "layer": [
                        {"mark": {"type": "text", "align": "left", "baseline": "middle", "font": "Open Sans", "fontSize": 16.5, "color": "#4d4d4d"}, "encoding": {"x": {"datum": 4.7, "type": "quantitative", "scale": {"domain": [0, 100]}, "axis": null}, "text": {"field": "crack"}}},
                        {"mark": {"type": "text", "align": "center", "baseline": "middle", "font": "Open Sans", "fontSize": 16.5, "color": "#4d4d4d"}, "encoding": {"x": {"datum": 19.3, "type": "quantitative", "scale": {"domain": [0, 100]}, "axis": null}, "text": {"field": "letter"}}},
                        {"mark": {"type": "text", "align": "right", "baseline": "middle", "font": "Open Sans", "fontSize": 16.5, "color": "#4d4d4d"}, "encoding": {"x": {"datum": 50.0, "type": "quantitative", "scale": {"domain": [0, 100]}, "axis": null}, "text": {"field": "mean", "format": ".3f"}}}
                      ]
                    },
                    {
                      "data": {"name": "groups"},
                      "transform": [{"filter": "datum.panel == 'b' && datum.crack == 'No'"}],
                      "encoding": {"y": {"datum": 65.5, "type": "quantitative", "scale": {"domain": [100, 0]}, "axis": null}},
                      "layer": [
                        {"mark": {"type": "text", "align": "left", "baseline": "middle", "font": "Open Sans", "fontSize": 16.5, "color": "#4d4d4d"}, "encoding": {"x": {"datum": 4.7, "type": "quantitative", "scale": {"domain": [0, 100]}, "axis": null}, "text": {"field": "crack"}}},
                        {"mark": {"type": "text", "align": "center", "baseline": "middle", "font": "Open Sans", "fontSize": 16.5, "color": "#4d4d4d"}, "encoding": {"x": {"datum": 23.7, "type": "quantitative", "scale": {"domain": [0, 100]}, "axis": null}, "text": {"field": "letter"}}},
                        {"mark": {"type": "text", "align": "right", "baseline": "middle", "font": "Open Sans", "fontSize": 16.5, "color": "#4d4d4d"}, "encoding": {"x": {"datum": 50.0, "type": "quantitative", "scale": {"domain": [0, 100]}, "axis": null}, "text": {"field": "mean", "format": ".3f"}}}
                      ]
                    }
                  ]
                }
              ]
            }
          ]
        },
        {
          "align": "none",
          "spacing": -1,
          "vconcat": [
            {
              "width": 1052, "height": 33,
              "view": {"fill": "#f0f0f0", "stroke": "#d5d5d5"},
              "data": {"name": "titles"},
              "transform": [{"filter": "datum.panel == 'c'"}],
              "mark": {"type": "text", "font": "Liberation Sans", "fontSize": 24, "fontWeight": "bold", "color": "#1a1a1a", "align": "center", "baseline": "middle"},
              "encoding": {"text": {"field": "title"}}
            },
            {
              "spacing": 0,
              "bounds": "flush",
              "hconcat": [
                {"width": 87, "height": 10, "data": {"name": "report"}, "mark": {"type": "point", "opacity": 0}},
                {
                  "width": 496, "height": 333,
                  "view": {"fill": "#bcdcfa", "stroke": "#9aa5b1"},
                  "layer": [
                    {
                      "data": {"name": "grand"},
                      "transform": [{"filter": "datum.panel == 'c'"}],
                      "mark": {"type": "rule", "color": "#7d8c9f", "strokeWidth": 1.5},
                      "encoding": {"y": {"field": "grand_mean", "type": "quantitative", "scale": {"domain": [-0.05, 0.5]}, "title": "Diffusion Coefficients (sq. inch/year)"}}
                    },
                    {
                      "data": {"name": "groups"},
                      "transform": [{"filter": "datum.panel == 'c'"}],
                      "layer": [
                        {"mark": {"type": "rule", "color": "#2b9a4f", "strokeWidth": 1.6}, "encoding": {"x": {"field": "crack", "type": "nominal", "bandPosition": 0, "scale": {"type": "band", "domain": ["Yes", "No"], "paddingInner": 0, "paddingOuter": 0}, "title": "Presence of Crack (Yes/No)"}, "x2": {"field": "crack", "bandPosition": 0.5}, "y": {"field": "mean", "type": "quantitative", "scale": {"domain": [-0.05, 0.5]}, "title": "Diffusion Coefficients (sq. inch/year)"}, "y2": {"field": "ci_hi"}}},
                        {"mark": {"type": "rule", "color": "#2b9a4f", "strokeWidth": 1.6}, "encoding": {"x": {"field": "crack", "type": "nominal", "bandPosition": 0.5, "scale": {"type": "band", "domain": ["Yes", "No"], "paddingInner": 0, "paddingOuter": 0}, "title": "Presence of Crack (Yes/No)"}, "x2": {"field": "crack", "bandPosition": 1}, "y": {"field": "ci_hi", "type": "quantitative", "scale": {"domain": [-0.05, 0.5]}, "title": "Diffusion Coefficients (sq. inch/year)"}, "y2": {"field": "mean"}}},
                        {"mark": {"type": "rule", "color": "#2b9a4f", "strokeWidth": 1.6}, "encoding": {"x": {"field": "crack", "type": "nominal", "bandPosition": 1, "scale": {"type": "band", "domain": ["Yes", "No"], "paddingInner": 0, "paddingOuter": 0}, "title": "Presence of Crack (Yes/No)"}, "x2": {"field": "crack", "bandPosition": 0.5}, "y": {"field": "mean", "type": "quantitative", "scale": {"domain": [-0.05, 0.5]}, "title": "Diffusion Coefficients (sq. inch/year)"}, "y2": {"field": "ci_lo"}}},
                        {"mark": {"type": "rule", "color": "#2b9a4f", "strokeWidth": 1.6}, "encoding": {"x": {"field": "crack", "type": "nominal", "bandPosition": 0.5, "scale": {"type": "band", "domain": ["Yes", "No"], "paddingInner": 0, "paddingOuter": 0}, "title": "Presence of Crack (Yes/No)"}, "x2": {"field": "crack", "bandPosition": 0}, "y": {"field": "ci_lo", "type": "quantitative", "scale": {"domain": [-0.05, 0.5]}, "title": "Diffusion Coefficients (sq. inch/year)"}, "y2": {"field": "mean"}}},
                        {"mark": {"type": "rule", "color": "#2b9a4f", "strokeWidth": 1.6}, "encoding": {"x": {"field": "crack", "type": "nominal", "bandPosition": 0, "scale": {"type": "band", "domain": ["Yes", "No"], "paddingInner": 0, "paddingOuter": 0}, "title": "Presence of Crack (Yes/No)"}, "x2": {"field": "crack", "bandPosition": 1}, "y": {"field": "mean", "type": "quantitative", "scale": {"domain": [-0.05, 0.5]}, "title": "Diffusion Coefficients (sq. inch/year)"}}},
                        {"mark": {"type": "rule", "color": "#2b9a4f", "strokeWidth": 1.6}, "encoding": {"x": {"field": "crack", "type": "nominal", "bandPosition": 0.3535, "scale": {"type": "band", "domain": ["Yes", "No"], "paddingInner": 0, "paddingOuter": 0}, "title": "Presence of Crack (Yes/No)"}, "x2": {"field": "crack", "bandPosition": 0.6465}, "y": {"field": "ov_hi", "type": "quantitative", "scale": {"domain": [-0.05, 0.5]}, "title": "Diffusion Coefficients (sq. inch/year)"}}},
                        {"mark": {"type": "rule", "color": "#2b9a4f", "strokeWidth": 1.6}, "encoding": {"x": {"field": "crack", "type": "nominal", "bandPosition": 0.3535, "scale": {"type": "band", "domain": ["Yes", "No"], "paddingInner": 0, "paddingOuter": 0}, "title": "Presence of Crack (Yes/No)"}, "x2": {"field": "crack", "bandPosition": 0.6465}, "y": {"field": "ov_lo", "type": "quantitative", "scale": {"domain": [-0.05, 0.5]}, "title": "Diffusion Coefficients (sq. inch/year)"}}}
                      ]
                    },
                    {
                      "data": {"name": "points"},
                      "transform": [{"filter": "datum.panel == 'c'"}],
                      "mark": {"type": "circle", "size": 50, "color": "#000000", "opacity": 1},
                      "encoding": {
                        "x": {"field": "crack", "type": "nominal", "scale": {"type": "band", "domain": ["Yes", "No"], "paddingInner": 0, "paddingOuter": 0}, "title": "Presence of Crack (Yes/No)",
                          "axis": {"bandPosition": 0, "labelAlign": "center", "tickOpacity": {"condition": {"test": "datum.value == 'Yes'", "value": 0}, "value": 1}, "tickSize": 6, "tickColor": "#8a8a8a", "domain": false, "grid": false, "labelAngle": 0, "labelPadding": 9, "labelFont": "Open Sans", "labelFontSize": 16, "labelColor": "#555555", "titleFont": "Liberation Sans", "titleFontSize": 20, "titleFontWeight": "normal", "titleColor": "#1e1e1e", "titlePadding": 6, "titleX": 255}},
                        "y": {"field": "coef", "type": "quantitative", "scale": {"domain": [-0.05, 0.5]}, "title": "Diffusion Coefficients (sq. inch/year)",
                          "axis": {"values": [0, 0.05, 0.1, 0.15, 0.2, 0.25, 0.3, 0.35, 0.4, 0.45, 0.5], "labelExpr": "abs(datum.value * 10 - round(datum.value * 10)) < 0.001 ? format(datum.value, '.1~f') : ''", "tickSize": {"condition": {"test": "abs(datum.value * 10 - round(datum.value * 10)) < 0.001", "value": 6}, "value": 3}, "tickColor": "#8a8a8a", "domain": false, "grid": false, "labelFont": "Open Sans", "labelFontSize": 16, "labelColor": "#555555", "labelPadding": 4, "titleFont": "Liberation Sans", "titleFontSize": 20, "titleFontWeight": "normal", "titleColor": "#222222", "titlePadding": 25}}
                      }
                    }
                  ]
                },
                {
                  "width": 138, "height": 333,
                  "view": {"fill": "#bcdcfa", "stroke": "#9aa5b1"},
                  "title": {"text": ["Each Pair", "Student's t 0.05"], "orient": "bottom", "anchor": "start", "dx": 12, "offset": 8, "font": "Open Sans", "fontSize": 17, "fontWeight": "normal", "color": "#555555", "lineHeight": 26},
                  "layer": [
                    {
                      "data": {"name": "grand"},
                      "transform": [{"filter": "datum.panel == 'c'"}],
                      "mark": {"type": "rule", "color": "#7d8c9f", "strokeWidth": 1.5},
                      "encoding": {"y": {"field": "grand_mean", "type": "quantitative", "scale": {"domain": [-0.05, 0.5]}, "axis": null}}
                    },
                    {
                      "data": {"name": "groups"},
                      "transform": [{"filter": "datum.panel == 'c'"}],
                      "mark": {"type": "point", "shape": "circle", "filled": false, "stroke": "#3d4b5f", "strokeWidth": 1.8, "opacity": 1},
                      "encoding": {
                        "y": {"field": "mean", "type": "quantitative", "scale": {"domain": [-0.05, 0.5]}, "axis": null},
                        "size": {"field": "ci_half", "type": "quantitative", "scale": {"type": "pow", "exponent": 2, "domain": [0, 0.05], "range": [0, 3666]}, "legend": null}
                      }
                    }
                  ]
                },
                {"width": 10, "height": 10, "data": {"name": "report"}, "mark": {"type": "point", "opacity": 0}},
                {
                  "width": 430, "height": 333,
                  "layer": [
                    {"data": {"name": "report"}, "mark": {"type": "rect", "fill": "#f1f1f1", "stroke": "#d4d4d4", "strokeWidth": 1}, "encoding": {"x": {"datum": 0, "type": "quantitative", "scale": {"domain": [0, 100]}, "axis": null}, "x2": {"datum": 100}, "y": {"datum": 17.9, "type": "quantitative", "scale": {"domain": [100, 0]}, "axis": null}, "y2": {"datum": 26.9}}},
                    {"data": {"name": "report"}, "mark": {"type": "rect", "fill": "#f1f1f1", "stroke": "#d4d4d4", "strokeWidth": 1}, "encoding": {"x": {"datum": 3.5, "type": "quantitative", "scale": {"domain": [0, 100]}, "axis": null}, "x2": {"datum": 100}, "y": {"datum": 28.4, "type": "quantitative", "scale": {"domain": [100, 0]}, "axis": null}, "y2": {"datum": 37.1}}},
                    {"data": {"name": "report"}, "mark": {"type": "rect", "fill": "#e8e8e8"}, "encoding": {"x": {"datum": 4.0, "type": "quantitative", "scale": {"domain": [0, 100]}, "axis": null}, "x2": {"datum": 51.2}, "y": {"datum": 46.1, "type": "quantitative", "scale": {"domain": [100, 0]}, "axis": null}, "y2": {"datum": 54.3}}},
                    {"data": {"name": "report"}, "mark": {"type": "text", "align": "left", "baseline": "middle", "font": "Open Sans", "fontSize": 19.3, "fontWeight": "bold", "color": "#333333"}, "encoding": {"x": {"datum": 0.7, "type": "quantitative", "scale": {"domain": [0, 100]}, "axis": null}, "y": {"datum": 22.1, "type": "quantitative", "scale": {"domain": [100, 0]}, "axis": null}, "text": {"field": "heading"}}},
                    {"data": {"name": "report"}, "mark": {"type": "text", "align": "left", "baseline": "middle", "font": "Open Sans", "fontSize": 19.3, "fontWeight": "bold", "color": "#333333"}, "encoding": {"x": {"datum": 4.7, "type": "quantitative", "scale": {"domain": [0, 100]}, "axis": null}, "y": {"datum": 32.6, "type": "quantitative", "scale": {"domain": [100, 0]}, "axis": null}, "text": {"field": "subheading"}}},
                    {"data": {"name": "report"}, "mark": {"type": "text", "align": "left", "baseline": "middle", "font": "Open Sans", "fontSize": 16.5, "fontWeight": "bold", "color": "#333333"}, "encoding": {"x": {"datum": 4.7, "type": "quantitative", "scale": {"domain": [0, 100]}, "axis": null}, "y": {"datum": 50.0, "type": "quantitative", "scale": {"domain": [100, 0]}, "axis": null}, "text": {"field": "level_col"}}},
                    {"data": {"name": "report"}, "mark": {"type": "text", "align": "right", "baseline": "middle", "font": "Open Sans", "fontSize": 16.5, "fontWeight": "bold", "color": "#333333"}, "encoding": {"x": {"datum": 50.0, "type": "quantitative", "scale": {"domain": [0, 100]}, "axis": null}, "y": {"datum": 50.0, "type": "quantitative", "scale": {"domain": [100, 0]}, "axis": null}, "text": {"field": "mean_col"}}},
                    {"data": {"name": "report"}, "mark": {"type": "text", "align": "left", "baseline": "middle", "font": "Open Sans", "fontSize": 17.3, "color": "#4d4d4d"}, "encoding": {"x": {"datum": 4.0, "type": "quantitative", "scale": {"domain": [0, 100]}, "axis": null}, "y": {"datum": 75.0, "type": "quantitative", "scale": {"domain": [100, 0]}, "axis": null}, "text": {"field": "note1"}}},
                    {"data": {"name": "report"}, "mark": {"type": "text", "align": "left", "baseline": "middle", "font": "Open Sans", "fontSize": 17.3, "color": "#4d4d4d"}, "encoding": {"x": {"datum": 4.0, "type": "quantitative", "scale": {"domain": [0, 100]}, "axis": null}, "y": {"datum": 82.2, "type": "quantitative", "scale": {"domain": [100, 0]}, "axis": null}, "text": {"field": "note2"}}},
                    {
                      "data": {"name": "groups"},
                      "transform": [{"filter": "datum.panel == 'c' && datum.crack == 'Yes'"}],
                      "encoding": {"y": {"datum": 58.2, "type": "quantitative", "scale": {"domain": [100, 0]}, "axis": null}},
                      "layer": [
                        {"mark": {"type": "text", "align": "left", "baseline": "middle", "font": "Open Sans", "fontSize": 16.5, "color": "#4d4d4d"}, "encoding": {"x": {"datum": 4.7, "type": "quantitative", "scale": {"domain": [0, 100]}, "axis": null}, "text": {"field": "crack"}}},
                        {"mark": {"type": "text", "align": "center", "baseline": "middle", "font": "Open Sans", "fontSize": 16.5, "color": "#4d4d4d"}, "encoding": {"x": {"datum": 19.3, "type": "quantitative", "scale": {"domain": [0, 100]}, "axis": null}, "text": {"field": "letter"}}},
                        {"mark": {"type": "text", "align": "right", "baseline": "middle", "font": "Open Sans", "fontSize": 16.5, "color": "#4d4d4d"}, "encoding": {"x": {"datum": 50.0, "type": "quantitative", "scale": {"domain": [0, 100]}, "axis": null}, "text": {"field": "mean", "format": ".3f"}}}
                      ]
                    },
                    {
                      "data": {"name": "groups"},
                      "transform": [{"filter": "datum.panel == 'c' && datum.crack == 'No'"}],
                      "encoding": {"y": {"datum": 66.0, "type": "quantitative", "scale": {"domain": [100, 0]}, "axis": null}},
                      "layer": [
                        {"mark": {"type": "text", "align": "left", "baseline": "middle", "font": "Open Sans", "fontSize": 16.5, "color": "#4d4d4d"}, "encoding": {"x": {"datum": 4.7, "type": "quantitative", "scale": {"domain": [0, 100]}, "axis": null}, "text": {"field": "crack"}}},
                        {"mark": {"type": "text", "align": "center", "baseline": "middle", "font": "Open Sans", "fontSize": 16.5, "color": "#4d4d4d"}, "encoding": {"x": {"datum": 23.7, "type": "quantitative", "scale": {"domain": [0, 100]}, "axis": null}, "text": {"field": "letter"}}},
                        {"mark": {"type": "text", "align": "right", "baseline": "middle", "font": "Open Sans", "fontSize": 16.5, "color": "#4d4d4d"}, "encoding": {"x": {"datum": 50.0, "type": "quantitative", "scale": {"domain": [0, 100]}, "axis": null}, "text": {"field": "mean", "format": ".3f"}}}
                      ]
                    }
                  ]
                }
              ]
            }
          ]
        }
      ]
    }
  ]
}
